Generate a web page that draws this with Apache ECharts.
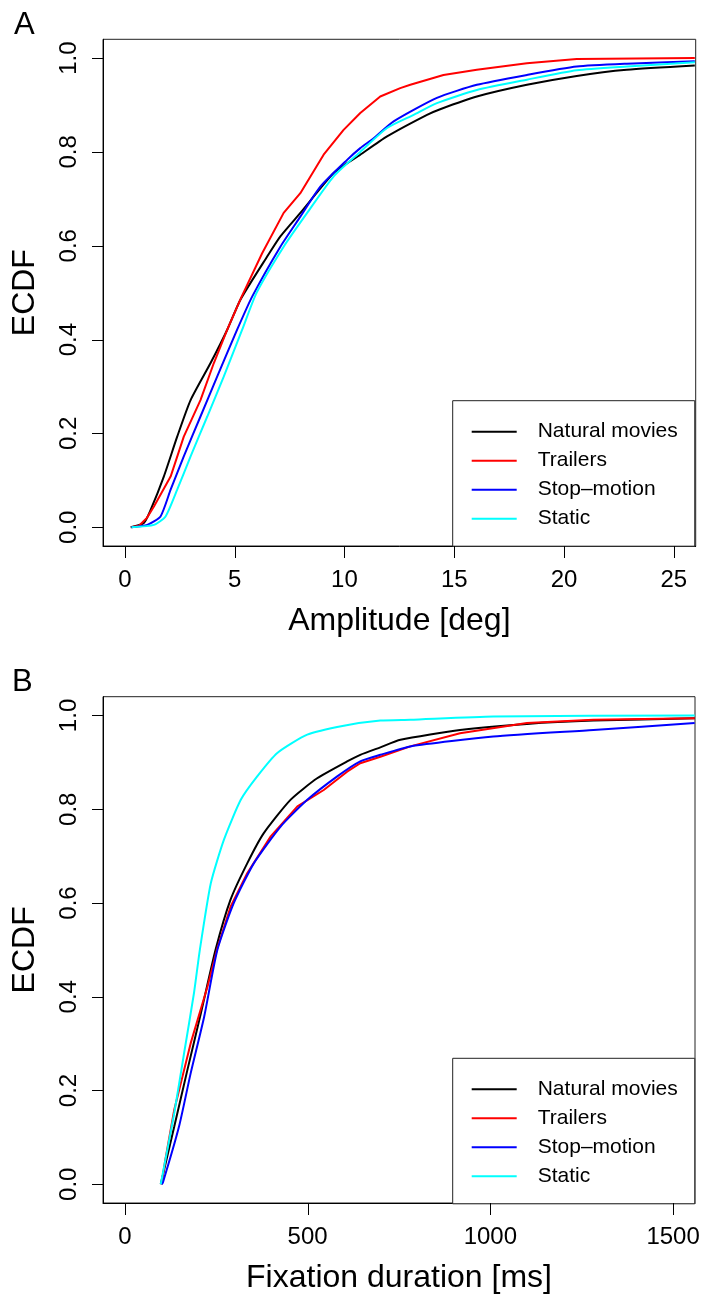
<!DOCTYPE html>
<html lang="en">

<head>
    <meta charset="UTF-8">
    <script src="https://cdn.jsdelivr.net/npm/echarts@6/dist/echarts.min.js"></script>
    <title>ECDF</title>
    <style>
        body { margin: 0; background: #fff; }
        #main { width: 717px; height: 1296px; }
    </style>
</head>

<body>
    <div id="main"></div>

    <script>
        // names of the four conditions
        var names = ['Natural movies', 'Trailers', 'Stop\u2013motion', 'Static'];
        var colors = ['#000000', '#ff0000', '#0000ff', '#00ffff'];

        // tick labels
        var ampTicks = [0, 5, 10, 15, 20, 25];
        var durTicks = [0, 500, 1000, 1500];
        var ecdfTicks = [0, 0.2, 0.4, 0.6, 0.8, 1.0];

        // panel A: saccade amplitude [deg] -> ECDF
        var ampNatural = [[0.26, 0], [0.86, 0.009], [1.17, 0.037], [1.77, 0.108], [2.38, 0.193], [2.99, 0.271],
            [3.9, 0.35], [4.66, 0.421], [5.26, 0.485], [6.48, 0.577], [7.08, 0.62], [7.99, 0.67], [9.51, 0.755],
            [10.72, 0.794], [11.94, 0.833], [13.76, 0.879], [14.36, 0.891], [16.03, 0.918], [18.31, 0.943],
            [20.58, 0.962], [22.86, 0.975], [25.96, 0.984]];
        var ampTrailers = [[0.3, 0], [0.64, 0.003], [1.0, 0.02], [1.32, 0.044], [2.08, 0.108], [2.68, 0.193],
            [3.44, 0.271], [4.05, 0.35], [4.66, 0.421], [5.3, 0.49], [6.25, 0.584], [7.23, 0.67], [7.99, 0.712],
            [9.05, 0.794], [9.96, 0.847], [10.72, 0.883], [11.63, 0.918], [12.54, 0.936], [13.0, 0.943],
            [14.51, 0.964], [16.03, 0.975], [18.31, 0.989], [20.58, 0.998], [25.96, 1.0]];
        var ampStop = [[0.3, 0], [1.02, 0.005], [1.62, 0.023], [2.08, 0.08], [2.68, 0.151], [3.44, 0.236],
            [4.2, 0.321], [5.11, 0.421], [5.8, 0.492], [7.08, 0.598], [7.99, 0.662], [8.9, 0.726], [10.12, 0.783],
            [10.72, 0.808], [11.33, 0.829], [12.24, 0.865], [14.21, 0.915], [16.03, 0.943], [18.31, 0.964],
            [20.58, 0.982], [22.86, 0.988], [25.96, 0.993]];
        var ampStatic = [[0.3, 0], [1.32, 0.005], [1.85, 0.023], [2.38, 0.08], [2.99, 0.151], [3.75, 0.236],
            [4.5, 0.321], [5.34, 0.421], [6.0, 0.5], [7.23, 0.598], [8.3, 0.67], [9.51, 0.748], [10.72, 0.8],
            [11.94, 0.851], [13.15, 0.879], [14.21, 0.904], [16.03, 0.932], [18.31, 0.954], [20.58, 0.974],
            [22.86, 0.982], [25.96, 0.991]];

        // panel B: fixation duration [ms] -> ECDF
        var durNatural = [[98, 0], [135, 0.123], [171, 0.244], [208, 0.365], [248, 0.5], [289, 0.607],
            [335, 0.685], [380, 0.749], [453, 0.82], [526, 0.866], [608, 0.902], [644, 0.916], [699, 0.932],
            [754, 0.948], [917, 0.969], [1100, 0.982], [1282, 0.989], [1559, 0.994]];
        var durTrailers = [[100, 0], [110, 0.05], [135, 0.159], [180, 0.301], [226, 0.422], [253, 0.504],
            [289, 0.592], [335, 0.664], [399, 0.742], [472, 0.806], [544, 0.841], [608, 0.88], [644, 0.898],
            [699, 0.912], [781, 0.934], [917, 0.962], [1100, 0.984], [1282, 0.991], [1559, 0.994]];
        var durStop = [[100, 0], [104, 0.004], [148, 0.123], [180, 0.237], [217, 0.358], [253, 0.5],
            [298, 0.6], [353, 0.685], [426, 0.763], [499, 0.82], [581, 0.87], [644, 0.902], [699, 0.916],
            [781, 0.934], [1008, 0.955], [1282, 0.969], [1559, 0.984]];
        var durStatic = [[98, 0], [135, 0.152], [162, 0.28], [189, 0.408], [205, 0.5], [235, 0.642],
            [271, 0.735], [317, 0.82], [362, 0.87], [417, 0.92], [499, 0.959], [599, 0.978], [699, 0.989],
            [781, 0.991], [1008, 0.998], [1559, 1.0]];

        var FONT = '"Liberation Sans", Arial, Helvetica, sans-serif';
        var Y_MIN = -0.04, Y_MAX = 1.04;
        var myChart = echarts.init(document.getElementById('main'));

        function xAxisFor(idx, min, max, ticks, title) {
            return {
                type: 'value', gridIndex: idx, min: min, max: max,
                axisLine: { show: true, onZero: false, lineStyle: { color: '#000', width: 1 } },
                splitLine: { show: false },
                axisTick: { show: false },
                axisLabel: {
                    customValues: ticks, fontSize: 24, margin: 22, color: '#000', fontFamily: FONT,
                    formatter: function (v) { return String(v); }
                },
                name: title, nameLocation: 'middle', nameGap: 59,
                nameTextStyle: { fontSize: 32, color: '#000', fontFamily: FONT }
            };
        }

        function yAxisFor(idx) {
            return {
                type: 'value', gridIndex: idx, min: Y_MIN, max: Y_MAX,
                axisLine: { show: true, onZero: false, lineStyle: { color: '#000', width: 1 } },
                splitLine: { show: false },
                axisTick: { show: false },
                axisLabel: {
                    customValues: ecdfTicks, rotate: 90, fontSize: 24, margin: 22, color: '#000', fontFamily: FONT,
                    formatter: function (v) { return v.toFixed(1); }
                },
                name: 'ECDF', nameLocation: 'middle', nameGap: 62,
                nameTextStyle: { fontSize: 32, color: '#000', fontFamily: FONT }
            };
        }

        function lineSeries(i, idx, data) {
            return {
                name: names[i], type: 'line', xAxisIndex: idx, yAxisIndex: idx,
                data: data, symbol: 'none',
                smooth: i === 1 ? false : 0.2,
                lineStyle: { color: colors[i], width: 2 },
                itemStyle: { color: colors[i] }
            };
        }

        function legendFor(top) {
            return {
                data: names, orient: 'vertical', left: 452.7, top: top,
                padding: [20.5, 17, 17, 19], itemGap: 8, itemWidth: 45, itemHeight: 2, icon: 'rect',
                backgroundColor: '#fff', borderColor: '#222', borderWidth: 1, borderRadius: 0,
                selectedMode: false,
                textStyle: { fontSize: 21, lineHeight: 21, color: '#000', fontFamily: FONT, padding: [0, 0, 0, 16] }
            };
        }

        var option = {
            animation: false,
            backgroundColor: '#fff',
            grid: [
                { left: 103, top: 39.3, right: 21.3, height: 506.7, show: true, borderColor: '#222', borderWidth: 1, outerBoundsMode: 'none' },
                { left: 103, top: 696.7, right: 22, height: 506.3, show: true, borderColor: '#222', borderWidth: 1, outerBoundsMode: 'none' }
            ],
            xAxis: [
                xAxisFor(0, -1, 26, ampTicks, 'Amplitude [deg]'),
                xAxisFor(1, -60, 1560, durTicks, 'Fixation duration [ms]')
            ],
            yAxis: [yAxisFor(0), yAxisFor(1)],
            legend: [legendFor(400.7), legendFor(1058.3)],
            series: [
                lineSeries(0, 0, ampNatural),
                lineSeries(1, 0, ampTrailers),
                lineSeries(2, 0, ampStop),
                lineSeries(3, 0, ampStatic),
                lineSeries(0, 1, durNatural),
                lineSeries(1, 1, durTrailers),
                lineSeries(2, 1, durStop),
                lineSeries(3, 1, durStatic)
            ]
        };

        myChart.setOption(option);

        // R-style outward tick marks, positioned through the chart's own scales
        var graphics = [
            { type: 'text', left: 14, top: 10, style: { text: 'A', fontSize: 31, fontFamily: FONT, fill: '#000' } },
            { type: 'text', left: 12, top: 667, style: { text: 'B', fontSize: 31, fontFamily: FONT, fill: '#000' } }
        ];
        function addTicks(gridIndex, xTicks, xMin) {
            xTicks.forEach(function (v) {
                var p = myChart.convertToPixel({ gridIndex: gridIndex }, [v, Y_MIN]);
                var x = Math.round(p[0]) + 0.5;
                graphics.push({ type: 'line', z: 100, silent: true,
                    shape: { x1: x, y1: p[1], x2: x, y2: p[1] + 12 }, style: { stroke: '#000', lineWidth: 1 } });
            });
            ecdfTicks.forEach(function (v) {
                var p = myChart.convertToPixel({ gridIndex: gridIndex }, [xMin, v]);
                var y = Math.round(p[1]) + 0.5;
                graphics.push({ type: 'line', z: 100, silent: true,
                    shape: { x1: p[0] - 11, y1: y, x2: p[0], y2: y }, style: { stroke: '#000', lineWidth: 1 } });
            });
        }
        addTicks(0, ampTicks, -1);
        addTicks(1, durTicks, -60);
        myChart.setOption({ graphic: graphics });
    </script>
</body>

</html>
